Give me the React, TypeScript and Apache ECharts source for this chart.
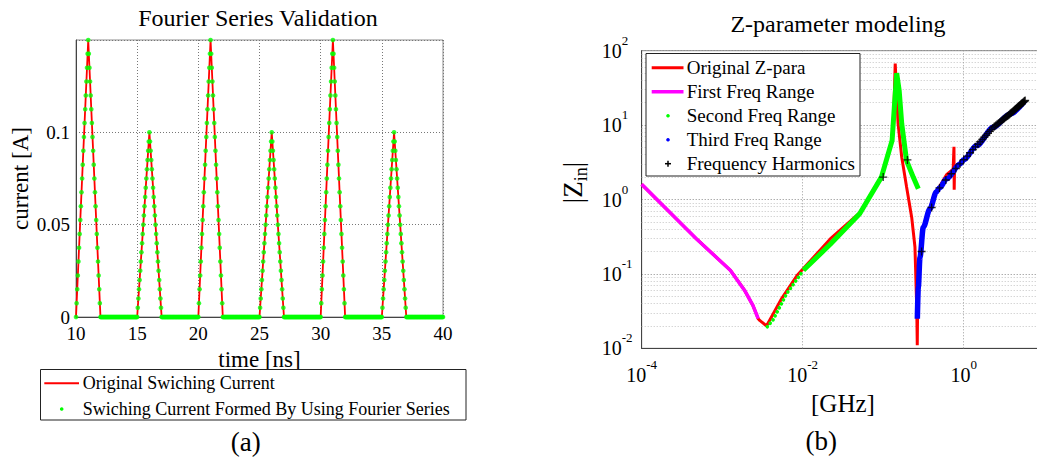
import React, { useEffect, useRef } from 'react';
import * as echarts from 'echarts';

const SERIF = '"Liberation Serif", "Times New Roman", serif';

// ---------- (a) Fourier Series Validation ----------
const pulseStartsNs = [10, 15, 20, 25, 30, 35];
const pulsePeaksA = [0.15, 0.1, 0.15, 0.1, 0.15, 0.1];
const pulseRiseNs = 1;
const pulseFallNs = 1;
const timeEndNs = 40;
const sampleStepNs = 0.05;
const bigPulseDots = [
  0, 0.0075, 0.015, 0.0225, 0.03, 0.0375, 0.045, 0.0525, 0.06, 0.0675,
  0.075, 0.0825, 0.09, 0.0975, 0.105, 0.1125, 0.12, 0.1275, 0.135, 0.1425,
  0.15,
  0.1425, 0.135, 0.1275, 0.12, 0.1125, 0.105, 0.0975, 0.09, 0.0825, 0.075,
  0.0675, 0.06, 0.0525, 0.045, 0.0375, 0.03, 0.0225, 0.015, 0.0075,
];
const smallPulseDots = [
  0, 0.005, 0.01, 0.015, 0.02, 0.025, 0.03, 0.035, 0.04, 0.045,
  0.05, 0.055, 0.06, 0.065, 0.07, 0.075, 0.08, 0.085, 0.09, 0.095,
  0.1,
  0.095, 0.09, 0.085, 0.08, 0.075, 0.07, 0.065, 0.06, 0.055, 0.05,
  0.045, 0.04, 0.035, 0.03, 0.025, 0.02, 0.015, 0.01, 0.005,
];
const timeTicksNs = [10, 15, 20, 25, 30, 35, 40];
const currentTicksA = [0, 0.05, 0.1];

// ---------- (b) Z-parameter modeling ----------
const origFreqGHz = [0.0001, 0.00048, 0.00126, 0.0019, 0.0024, 0.0028, 0.00295, 0.00355, 0.0055, 0.0085, 0.022, 0.051, 0.095, 0.129, 0.136, 0.141, 0.153, 0.17, 0.195, 0.226, 0.248, 0.261, 0.265, 0.268, 0.273, 0.2865, 0.315, 0.381, 0.419, 0.617, 0.74, 0.757, 0.762, 0.77, 0.9, 1.0, 1.45, 2.33, 3.76, 5.77];
const origZ = [1.6, 0.295, 0.112, 0.06, 0.038, 0.025, 0.0235, 0.02, 0.047, 0.095, 0.295, 0.66, 2.05, 6.3, 17, 67, 10.5, 3.7, 1.48, 0.575, 0.23, 0.035, 0.011, 0.04, 0.07, 0.17, 0.43, 0.77, 1.07, 2.18, 2.55, 5.1, 1.35, 2.75, 3.05, 3.45, 5.35, 9.4, 14.2, 21.4];

const firstFreqGHz = [0.0001, 0.00048, 0.00126, 0.0019, 0.0024, 0.0028];
const firstZ = [1.6, 0.295, 0.112, 0.06, 0.038, 0.025];

const secondFreqGHz = [0.00363, 0.00427, 0.0063, 0.0102, 0.022, 0.051, 0.095, 0.129, 0.1375, 0.147, 0.158, 0.17, 0.195, 0.236, 0.273];
const secondZ = [0.0195, 0.024, 0.054, 0.112, 0.25, 0.645, 2.0, 6.2, 17.4, 50, 29, 10.4, 3.33, 2.0, 1.39];
const secondSparseCount = 4; // first samples are drawn as separate dots

const thirdFreqGHz = [0.2655, 0.273, 0.2865, 0.315, 0.381, 0.457, 0.5, 0.617, 0.9, 1.0, 1.45, 2.33, 3.76, 5.77];
const thirdZ = [0.025, 0.066, 0.168, 0.425, 0.75, 1.26, 1.43, 1.9, 3.0, 3.42, 5.31, 9.33, 14.1, 21.3];

const harmFreqGHz = [
  0.1, 0.2, 0.3, 0.4, 0.5, 0.6, 0.7, 0.8, 0.9,
  1.0, 1.1, 1.2, 1.3, 1.4, 1.5, 1.6, 1.7, 1.8, 1.9,
  2.0, 2.1, 2.2, 2.3, 2.4, 2.5, 2.6, 2.7, 2.8, 2.9,
  3.0, 3.1, 3.2, 3.3, 3.4, 3.5, 3.6, 3.7, 3.8, 3.9,
  4.0, 4.1, 4.2, 4.3, 4.4, 4.5, 4.6, 4.7, 4.8, 4.9,
  5.0, 5.1, 5.2, 5.3, 5.4, 5.5, 5.6, 5.7, 5.8,
];
const harmZ = [
  2.0, 3.4, 0.2, 0.78, 1.43, 1.83, 2.22, 2.61, 3.01,
  3.42, 3.83, 4.25, 4.67, 5.1, 5.53, 5.97, 6.41, 6.86, 7.31,
  7.76, 8.22, 8.69, 9.16, 9.57, 9.91, 10.26, 10.6, 10.93, 11.27,
  11.61, 11.94, 12.27, 12.61, 12.94, 13.27, 13.6, 13.93, 14.28, 14.63,
  14.99, 15.35, 15.7, 16.06, 16.43, 16.79, 17.15, 17.5, 17.86, 18.22,
  18.58, 18.93, 19.29, 19.65, 20.0, 20.36, 20.71, 21.07, 21.43,
];
const freqDecades = [-2, -1, 0, 1];
const minorMultipliers = [2, 3, 4, 5, 6, 7, 8, 9];
const verticalGridGHz = [0.01, 1];

const r4 = (v: number) => Math.round(v * 10000) / 10000;
const zip = (a: number[], b: number[]) => a.map((v, i) => [v, b[i]]);

function buildOption() {
  // (a) original switching current: triangle vertices
  const origLine: number[][] = [];
  pulseStartsNs.forEach((s, i) => {
    origLine.push([s, 0], [s + pulseRiseNs, pulsePeaksA[i]], [s + pulseRiseNs + pulseFallNs, 0]);
  });
  origLine.push([timeEndNs, 0]);

  // (a) Fourier samples
  const fourierDots: number[][] = [];
  pulseStartsNs.forEach((s, i) => {
    const shape = pulsePeaksA[i] > 0.12 ? bigPulseDots : smallPulseDots;
    shape.forEach((v, j) => fourierDots.push([r4(s + j * sampleStepNs), v]));
    const next = i + 1 < pulseStartsNs.length ? pulseStartsNs[i + 1] : timeEndNs + sampleStepNs;
    for (let j = shape.length; r4(s + j * sampleStepNs) < next - 1e-9; j++) {
      fourierDots.push([r4(s + j * sampleStepNs), 0]);
    }
  });

  const minorGrid: any[] = [];
  freqDecades.forEach((d) => minorMultipliers.forEach((m) => minorGrid.push({ yAxis: m * Math.pow(10, d) })));

  const txt = { fontFamily: SERIF, color: '#000' };
  const expRich = {
    b: { fontFamily: SERIF, color: '#000', fontSize: 20, lineHeight: 34 },
    s: { fontFamily: SERIF, color: '#000', fontSize: 13, lineHeight: 14, verticalAlign: 'top' },
  };
  const expLabel = (v: number) => `{b|10}{s|${Math.round(Math.log10(v))}}`;

  const plusPath = 'path://M3.75,0h1.5v3.75h3.75v1.5h-3.75v3.75h-1.5v-3.75h-3.75v-1.5h3.75z';

  const legendRowsB = [67.7, 91.7, 115.7, 139.7, 163.7];
  const legendNamesB = ['Original Z-para', 'First Freq Range', 'Second Freq Range', 'Third Freq Range', 'Frequency Harmonics'];

  const graphic: any[] = [
    { type: 'text', x: 258, y: 18, z: 100, style: { text: 'Fourier Series Validation', fontFamily: SERIF, fill: '#000', fontSize: 24, textAlign: 'center', textVerticalAlign: 'middle' } },
    { type: 'text', x: 838, y: 23.5, z: 100, style: { text: 'Z-parameter modeling', fontFamily: SERIF, fill: '#000', fontSize: 24, textAlign: 'center', textVerticalAlign: 'middle' } },
    { type: 'text', x: 245.7, y: 441.5, z: 100, style: { text: '(a)', fontFamily: SERIF, fill: '#000', fontSize: 27, textAlign: 'center', textVerticalAlign: 'middle' } },
    { type: 'text', x: 821.3, y: 440.5, z: 100, style: { text: '(b)', fontFamily: SERIF, fill: '#000', fontSize: 27, textAlign: 'center', textVerticalAlign: 'middle' } },
    // legend (a)
    { type: 'rect', z: 100, shape: { x: 40.5, y: 369.5, width: 425.5, height: 50.5 }, style: { fill: '#fff', stroke: '#222', lineWidth: 1 } },
    { type: 'line', z: 101, shape: { x1: 44.3, y1: 383.3, x2: 79, y2: 383.3 }, style: { stroke: '#ff0000', lineWidth: 2 } },
    { type: 'circle', z: 101, shape: { cx: 61.7, cy: 409, r: 1.8 }, style: { fill: '#00ff00' } },
    { type: 'text', z: 101, x: 82.7, y: 383.3, style: { text: 'Original Swiching Current', fontFamily: SERIF, fill: '#000', fontSize: 18, textVerticalAlign: 'middle' } },
    { type: 'text', z: 101, x: 82.7, y: 409, style: { text: 'Swiching Current Formed By Using Fourier Series', fontFamily: SERIF, fill: '#000', fontSize: 18, textVerticalAlign: 'middle' } },
    // legend (b)
    { type: 'rect', z: 100, shape: { x: 646, y: 53.5, width: 214, height: 122.5 }, style: { fill: '#fff', stroke: '#222', lineWidth: 1 } },
    { type: 'line', z: 101, shape: { x1: 651.7, y1: legendRowsB[0], x2: 683.5, y2: legendRowsB[0] }, style: { stroke: '#ff0000', lineWidth: 3 } },
    { type: 'line', z: 101, shape: { x1: 651.7, y1: legendRowsB[1], x2: 683.5, y2: legendRowsB[1] }, style: { stroke: '#ff00ff', lineWidth: 3.5 } },
    { type: 'circle', z: 101, shape: { cx: 668, cy: legendRowsB[2], r: 1.8 }, style: { fill: '#00ff00' } },
    { type: 'circle', z: 101, shape: { cx: 668, cy: legendRowsB[3], r: 1.8 }, style: { fill: '#0000ff' } },
    { type: 'line', z: 101, shape: { x1: 665, y1: legendRowsB[4], x2: 671, y2: legendRowsB[4] }, style: { stroke: '#000', lineWidth: 1.5 } },
    { type: 'line', z: 101, shape: { x1: 668, y1: legendRowsB[4] - 3, x2: 668, y2: legendRowsB[4] + 3 }, style: { stroke: '#000', lineWidth: 1.5 } },
    ...legendNamesB.map((n, i) => ({ type: 'text', z: 101, x: 686.7, y: legendRowsB[i], style: { text: n, fontFamily: SERIF, fill: '#000', fontSize: 19, textVerticalAlign: 'middle' } })),
  ];

  return {
    animation: false,
    backgroundColor: '#fff',
    grid: [
      { left: 76, top: 40, width: 367, height: 277, show: true, borderColor: '#8c8c8c', borderWidth: 1 },
      { left: 641.7, top: 50.7, width: 402.5, height: 297.6, show: true, borderColor: '#8c8c8c', borderWidth: 1 },
    ],
    xAxis: [
      {
        gridIndex: 0, type: 'value', min: timeTicksNs[0], max: timeTicksNs[timeTicksNs.length - 1], interval: 5,
        axisLine: { show: true, lineStyle: { color: '#444' } }, axisTick: { show: false },
        splitLine: { show: true, lineStyle: { type: [1, 2], color: '#777' } },
        axisLabel: { ...txt, fontSize: 19, lineHeight: 16, margin: 8 },
        name: 'time [ns]', nameLocation: 'middle', nameGap: 26, nameTextStyle: { ...txt, fontSize: 23, lineHeight: 24 },
      },
      {
        gridIndex: 1, type: 'log', logBase: 10, min: 1e-4, max: 10,
        axisLine: { show: true, onZero: false, lineStyle: { color: '#444' } }, axisTick: { show: false },
        splitLine: { show: false },
        axisLabel: {
          margin: 10,
          formatter: (v: number) => (Math.round(Math.log10(v)) % 2 === 0 ? expLabel(v) : ''),
          rich: expRich,
        },
        name: '[GHz]', nameLocation: 'middle', nameGap: 40, nameTextStyle: { ...txt, fontSize: 25, lineHeight: 26 },
      },
    ],
    yAxis: [
      {
        gridIndex: 0, type: 'value', min: 0, max: 0.15, interval: 0.05,
        axisLine: { show: true, lineStyle: { color: '#444' } }, axisTick: { show: false },
        splitLine: { show: true, lineStyle: { type: [1, 2], color: '#777' } },
        axisLabel: {
          ...txt, fontSize: 19, lineHeight: 16, margin: 6,
          formatter: (v: number) => (currentTicksA.some((t) => Math.abs(t - v) < 1e-9) ? String(+v.toFixed(2)) : ''),
        },
        name: 'current [A]', nameLocation: 'middle', nameGap: 42, nameTextStyle: { ...txt, fontSize: 23, lineHeight: 24 },
      },
      {
        gridIndex: 1, type: 'log', logBase: 10, min: 0.01, max: 100,
        axisLine: { show: true, onZero: false, lineStyle: { color: '#444' } }, axisTick: { show: false },
        splitLine: { show: true, lineStyle: { type: [1, 2], color: '#888' } },
        axisLabel: { margin: 40, align: 'left', formatter: expLabel, rich: expRich },
        name: '|Z{s|in}|', nameLocation: 'middle', nameGap: 52,
        nameTextStyle: {
          ...txt, fontSize: 27, lineHeight: 34, padding: [0, 0, 0, 34],
          rich: { s: { fontFamily: SERIF, color: '#000', fontSize: 18, lineHeight: 14, verticalAlign: 'bottom' } },
        },
      },
    ],
    series: [
      {
        type: 'line', name: 'Original Swiching Current', xAxisIndex: 0, yAxisIndex: 0,
        data: origLine, showSymbol: false, symbol: 'none', lineStyle: { color: '#ff0000', width: 1.8 }, z: 2,
      },
      {
        type: 'scatter', name: 'Swiching Current Formed By Using Fourier Series', xAxisIndex: 0, yAxisIndex: 0,
        data: fourierDots, symbol: 'circle', symbolSize: 4.6, itemStyle: { color: '#00ff00' }, z: 3,
      },
      {
        type: 'line', name: 'grid-helper', xAxisIndex: 1, yAxisIndex: 1, data: [[origFreqGHz[0], origZ[0]]],
        symbol: 'none', lineStyle: { opacity: 0 }, z: 1, silent: true,
        markLine: {
          z: 1, silent: true, symbol: ['none', 'none'], label: { show: false }, animation: false,
          lineStyle: { type: [1, 2], color: '#c4c4c4', width: 1 },
          data: [
            ...minorGrid,
            ...verticalGridGHz.map((f) => ({ xAxis: f, lineStyle: { type: [1, 2], color: '#9a9a9a', width: 1 } })),
          ],
        },
      },
      {
        type: 'line', name: 'Original Z-para', xAxisIndex: 1, yAxisIndex: 1,
        data: zip(origFreqGHz, origZ), symbol: 'none', lineStyle: { color: '#ff0000', width: 3 }, z: 3,
      },
      {
        type: 'line', name: 'First Freq Range', xAxisIndex: 1, yAxisIndex: 1,
        data: zip(firstFreqGHz, firstZ), symbol: 'none', lineStyle: { color: '#ff00ff', width: 3.5 }, z: 4,
      },
      {
        type: 'line', name: 'Second Freq Range', xAxisIndex: 1, yAxisIndex: 1,
        data: zip(secondFreqGHz, secondZ).slice(0, secondSparseCount), symbol: 'none',
        lineStyle: { color: '#00ff00', width: 3.6, type: [0.1, 4.4], cap: 'round' }, z: 4,
      },
      {
        type: 'line', name: 'Second Freq Range (dense)', xAxisIndex: 1, yAxisIndex: 1,
        data: zip(secondFreqGHz, secondZ).slice(secondSparseCount - 1), symbol: 'none',
        lineStyle: { color: '#00ff00', width: 5 }, z: 4,
      },
      {
        type: 'line', name: 'Third Freq Range', xAxisIndex: 1, yAxisIndex: 1,
        data: zip(thirdFreqGHz, thirdZ), symbol: 'none', smooth: 0.3, smoothMonotone: 'x',
        lineStyle: { color: '#0000ff', width: 5.5 }, z: 5,
      },
      {
        type: 'scatter', name: 'Frequency Harmonics', xAxisIndex: 1, yAxisIndex: 1,
        data: zip(harmFreqGHz, harmZ), symbol: plusPath, symbolSize: 8, itemStyle: { color: '#000' }, z: 6,
      },
    ],
    graphic,
  };
}

export default function App() {
  const ref = useRef<HTMLDivElement>(null);
  useEffect(() => {
    const chart = echarts.init(ref.current!, null, { renderer: 'svg' });
    chart.setOption(buildOption() as any);
    return () => chart.dispose();
  }, []);
  return (
    <div style={{ position: 'fixed', left: 0, top: 0, width: 1037, height: 459, overflow: 'hidden', background: '#fff' }}>
      <div ref={ref} style={{ width: 1060, height: 459 }} />
    </div>
  );
}
